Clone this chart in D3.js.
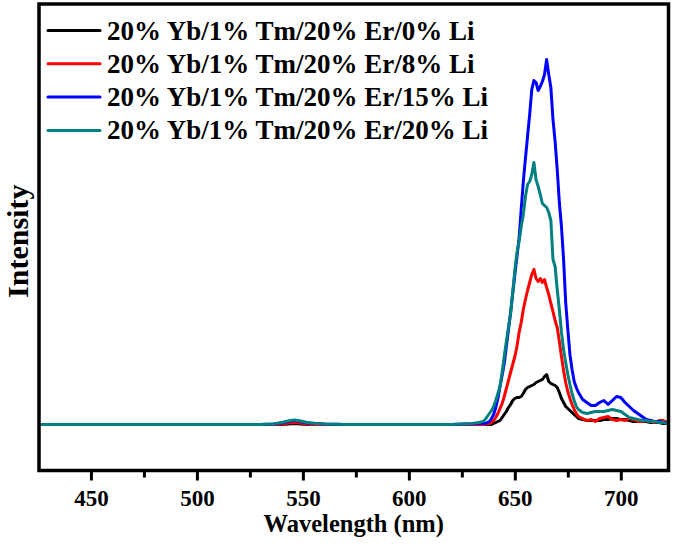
<!DOCTYPE html>
<html>
<head>
<meta charset="utf-8">
<script src="https://cdn.jsdelivr.net/npm/d3@7"></script>
<style>
  html, body { margin: 0; padding: 0; background: #fff; }
  svg { display: block; }
  .xtick text { font-family: 'Liberation Serif', 'Times New Roman', Times, serif; font-weight: bold; font-size: 23px; }
</style>
</head>
<body>
<svg id="chart" width="675" height="547"></svg>
<script>
// ---- DATA ----
const wavelengths = [
  425.5, 430, 440, 450, 460, 470, 480, 490, 500, 510, 520, 530, 536, 540, 543, 546, 549, 552, 556, 560,
  570, 580, 590, 600, 610, 620, 626, 630, 633, 635,
  636, 637, 638, 639, 640, 641, 642, 643, 644, 645, 646, 647, 648, 649, 650, 651, 652, 653, 654, 655,
  656, 657, 658, 659, 660, 661, 662, 663, 664, 665, 666, 667, 668, 669, 670, 671, 672, 673, 674, 675,
  676, 677, 678, 679, 680, 682, 684, 686, 688, 690, 692, 694, 696, 698, 700, 702, 704, 706, 708, 710,
  712, 714, 716, 718, 720, 722, 722.5
];
const li0 = [
  0, 0, 0, 0, 0, 0, 0, 0, 0, 0, 0, 0, 0, 0, 0.5, 1, 0.5, 0, 0, 0,
  0, 0, 0, 0, 0, 0, 0, 0, 0, 0,
  0, 0, 0, 0, 1, 2, 3, 4, 7, 10, 13, 17, 20, 24, 26, 27, 27, 28, 31, 35,
  37, 38, 39, 40, 42, 43, 44, 45, 48, 50, 43, 41, 40, 39, 37, 32, 26, 22, 18, 16,
  14, 12, 10, 8, 6, 5, 4, 4, 4, 4, 5, 5, 6, 6, 5, 5, 4, 3, 3, 3,
  3, 2, 2, 2, 1, 1, 1
];
const li8 = [
  0, 0, 0, 0, 0, 0, 0, 0, 0, 0, 0, 0, 0, 0.5, 1.5, 2, 1.5, 0.5, 0, 0,
  0, 0, 0, 0, 0, 0, 0, 0, 0, 0,
  0, 1, 1, 2, 4, 7, 11, 16, 21, 28, 36, 44, 52, 60, 68, 78, 92, 102, 115, 125,
  134, 142, 150, 155, 146, 143, 146, 142, 145, 137, 130, 121, 113, 104, 97, 83, 68, 54, 42, 33,
  26, 20, 15, 11, 8, 6, 4, 5, 3, 6, 7, 8, 5, 4, 5, 4, 6, 5, 3, 3,
  4, 3, 2, 4, 4, 2, 2
];
const li15 = [
  0, 0, 0, 0, 0, 0, 0, 0, 0, 0, 0, 0, 0.5, 1.5, 3, 4, 3, 1.5, 1, 0.5,
  0, 0, 0, 0, 0, 0, 0.5, 0.5, 1, 1,
  1, 2, 3, 6, 10, 17, 26, 38, 49, 61, 78, 95, 112, 131, 150, 168, 186, 215, 243, 266,
  288, 310, 335, 344, 342, 334, 338, 343, 350, 365, 350, 337, 305, 283, 255, 222, 198, 165, 122, 95,
  70, 55, 43, 37, 32, 25, 22, 19, 19, 22, 24, 20, 24, 28, 27, 22, 18, 14, 11, 8,
  5, 4, 3, 3, 2, 2, 2
];
const li20 = [
  0, 0, 0, 0, 0, 0, 0, 0, 0, 0, 0, 0, 0.5, 2, 3.5, 4.5, 3.5, 2, 1, 0.5,
  0, 0, 0, 0, 0, 0, 0.5, 1, 2, 3,
  5, 8, 11, 14, 18, 24, 31, 38, 52, 68, 83, 97, 111, 132, 154, 172, 183, 198, 210, 228,
  240, 243, 250, 262, 245, 238, 230, 221, 219, 217, 212, 204, 165, 158, 135, 115, 92, 75, 62, 50,
  40, 31, 24, 18, 15, 12, 11, 12, 13, 13, 13, 14, 15, 14, 13, 10, 7, 6, 5, 4,
  4, 3, 3, 2, 2, 1, 1
];
const seriesLabels = [
  "20% Yb/1% Tm/20% Er/0% Li",
  "20% Yb/1% Tm/20% Er/8% Li",
  "20% Yb/1% Tm/20% Er/15% Li",
  "20% Yb/1% Tm/20% Er/20% Li"
];
const seriesColors = ["#000000", "#ff0000", "#0000ff", "#008080"];
const majorTicks = [450, 500, 550, 600, 650, 700];
const minorTicks = [475, 525, 575, 625, 675];
const xTitle = "Wavelength (nm)";
const yTitle = "Intensity";

// ---- LAYOUT ----
const svg = d3.select("#chart");
const L = 39, R = 668.5, T = 4, B = 470.5;
const x = d3.scaleLinear().domain([425.5, 722.5]).range([L, R]);
const y = d3.scaleLinear().domain([-46, 420.5]).range([B, T]);
const serif = "'Liberation Serif', 'Times New Roman', Times, serif";

const allSeries = [li0, li8, li15, li20];

const clipId = "plotclip";
svg.append("defs").append("clipPath").attr("id", clipId)
  .append("rect").attr("x", L).attr("y", T).attr("width", R - L).attr("height", B - T);

const line = d3.line().x(d => x(d[0])).y(d => y(d[1]));
const gLines = svg.append("g").attr("clip-path", `url(#${clipId})`);
allSeries.forEach((s, i) => {
  gLines.append("path")
    .datum(wavelengths.map((w, k) => [w, s[k]]))
    .attr("d", line)
    .attr("fill", "none")
    .attr("stroke", seriesColors[i])
    .attr("stroke-width", 3)
    .attr("stroke-linejoin", "round")
    .attr("stroke-linecap", "round");
});

// x axis major
const xAxis = d3.axisBottom(x).tickValues(majorTicks).tickSize(10).tickPadding(9).tickFormat(d3.format("d"));
const gx = svg.append("g").attr("class", "xtick").attr("transform", `translate(0,${B})`).call(xAxis);
gx.attr("font-size", 23).attr("font-family", serif).attr("font-weight", "bold");
gx.select(".domain").remove();
gx.selectAll(".tick line").attr("stroke", "#000").attr("stroke-width", 3);
gx.selectAll(".tick text").attr("fill", "#000");

// minor ticks
const xMinor = d3.axisBottom(x).tickValues(minorTicks).tickSize(7).tickFormat("");
const gxm = svg.append("g").attr("transform", `translate(0,${B})`).call(xMinor);
gxm.select(".domain").remove();
gxm.selectAll(".tick line").attr("stroke", "#000").attr("stroke-width", 3);

// frame
svg.append("rect")
  .attr("x", L).attr("y", T).attr("width", R - L).attr("height", B - T)
  .attr("fill", "none").attr("stroke", "#000").attr("stroke-width", 3.5);

// titles
svg.append("text")
  .attr("x", (L + R) / 2).attr("y", 531.5)
  .attr("text-anchor", "middle")
  .style("font-family", serif).style("font-weight", "bold").style("font-size", "24.5px")
  .text(xTitle);
svg.append("text")
  .attr("transform", `translate(27.5,${(T + B) / 2 + 4}) rotate(-90)`)
  .attr("text-anchor", "middle")
  .style("font-family", serif).style("font-weight", "bold").style("font-size", "30px")
  .text(yTitle);

// legend
const legendY = [30.5, 63.8, 97.1, 130.4];
seriesLabels.forEach((lab, i) => {
  const g = svg.append("g");
  g.append("line")
    .attr("x1", 48).attr("x2", 100).attr("y1", legendY[i]).attr("y2", legendY[i])
    .attr("stroke", seriesColors[i]).attr("stroke-width", 3).attr("stroke-linecap", "round");
  g.append("text")
    .attr("x", 107).attr("y", legendY[i] + 9)
    .style("font-family", serif).style("font-weight", "bold").style("font-size", "27px")
    .text(lab);
});
</script>
</body>
</html>
